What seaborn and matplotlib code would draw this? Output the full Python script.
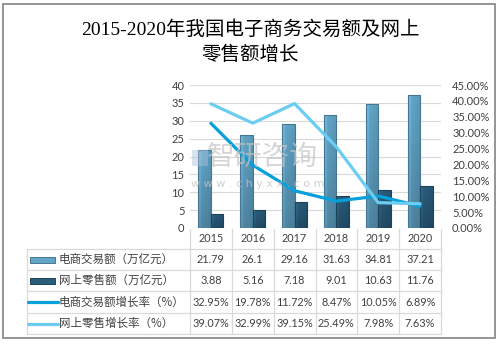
import numpy as np
import pandas as pd
import matplotlib
matplotlib.use("Agg")
import matplotlib.pyplot as plt
import matplotlib.transforms as mtransforms
from matplotlib.patches import Rectangle
from matplotlib.lines import Line2D
from matplotlib.colors import to_rgb
import seaborn as sns

# ---------------- data ----------------
years = ["2015", "2016", "2017", "2018", "2019", "2020"]
ecom_trade = [21.79, 26.1, 29.16, 31.63, 34.81, 37.21]
online_retail = [3.88, 5.16, 7.18, 9.01, 10.63, 11.76]
ecom_growth = [32.95, 19.78, 11.72, 8.47, 10.05, 6.89]
retail_growth = [39.07, 32.99, 39.15, 25.49, 7.98, 7.63]

ecom_trade_lbl = ["21.79", "26.1", "29.16", "31.63", "34.81", "37.21"]
online_retail_lbl = ["3.88", "5.16", "7.18", "9.01", "10.63", "11.76"]
ecom_growth_lbl = ["32.95%", "19.78%", "11.72%", "8.47%", "10.05%", "6.89%"]
retail_growth_lbl = ["39.07%", "32.99%", "39.15%", "25.49%", "7.98%", "7.63%"]

series_names = ["电商交易额（万亿元）", "网上零售额（万亿元）",
                "电商交易额增长率（%）", "网上零售增长率（%）"]
title = "2015-2020年我国电子商务交易额及网上\n零售额增长"

# ---------------- style ----------------
sns.set_theme(style="white")
plt.rcParams["font.family"] = ["Lato", "Noto Sans CJK SC", "DejaVu Sans"]
plt.rcParams["axes.unicode_minus"] = False

C_BAR1 = "#62a5c8"
C_BAR2 = "#2a5d7c"
C_LINE1 = "#07a0da"
C_LINE2 = "#6ccdf3"
TXT = "#404040"
GRID = "#d9d9d9"

W, H = 500, 345
fig = plt.figure(figsize=(W / 100, H / 100), dpi=100)
fig.patch.set_facecolor("white")

def fx(px):
    return px / W

def fy(py):
    return 1 - py / H

ax_l, ax_r, ax_t, ax_b = 190, 441, 85, 228
ax = fig.add_axes([fx(ax_l), fy(ax_b), (ax_r - ax_l) / W, (ax_b - ax_t) / H])

# ---------------- bars ----------------
df = pd.DataFrame({
    "year": years * 2,
    "value": ecom_trade + online_retail,
    "series": [series_names[0]] * len(years) + [series_names[1]] * len(years),
})
sns.barplot(data=df, x="year", y="value", hue="series",
            palette=[C_BAR1, C_BAR2], saturation=1, width=0.6, gap=0, ax=ax,
            legend=False, edgecolor="none", linewidth=0, zorder=2)

ax.set_xlim(-0.5, len(years) - 0.5)
ax.set_ylim(0, 40)
ax.set_yticks(np.arange(0, 41, 5))
ax.grid(axis="y", color=GRID, linewidth=0.8, zorder=0)
ax.set_axisbelow(True)
for s in ax.spines.values():
    s.set_visible(False)
ax.set_xticks(range(len(years)))
ax.set_xticklabels([])
ax.tick_params(axis="x", length=0)
ax.tick_params(axis="y", length=0, pad=4, labelsize=8, labelcolor=TXT)
ax.set_xlabel("")
ax.set_ylabel("")

# gradient shading of bars
def gradient_img(color):
    base = np.array(to_rgb(color))
    nx, ny = 40, 60
    xs = np.linspace(0, 1, nx)
    ys = np.linspace(0, 1, ny)  # 0 = top, 1 = bottom
    hf = np.where(xs < 0.22, 1.10, 1.0) - 0.10 * xs
    vf = 1.03 - 0.2 * ys
    f = vf[:, None] * hf[None, :]
    return np.clip(base[None, None, :] * f[:, :, None], 0, 1)

for cont, col in zip(ax.containers, [C_BAR1, C_BAR2]):
    for p in cont.patches:
        x0, y0 = p.get_x(), p.get_y()
        w, h = p.get_width(), p.get_height()
        if h <= 0:
            continue
        im = ax.imshow(gradient_img(col), extent=[x0, x0 + w, y0, y0 + h],
                       aspect="auto", origin="upper", zorder=2.1,
                       interpolation="bilinear")
        im.set_clip_path(p)
        edge = tuple(np.array(to_rgb(col)) * 0.72)
        ax.add_patch(Rectangle((x0, y0), w, h, fill=False, edgecolor=edge,
                               linewidth=0.8, zorder=2.2))
ax.set_xlim(-0.5, len(years) - 0.5)
ax.set_ylim(0, 40)

# ---------------- lines ----------------
ax2 = ax.twinx()
pos = np.arange(len(years))
sns.lineplot(x=pos, y=ecom_growth, ax=ax2, color=C_LINE1, linewidth=2.3, zorder=3)
sns.lineplot(x=pos, y=retail_growth, ax=ax2, color=C_LINE2, linewidth=2.3, zorder=3)
ax2.set_ylim(0, 45)
ax2.set_yticks(np.arange(0, 46, 5))
ax2.set_yticklabels([f"{v:.2f}%" for v in np.arange(0, 46, 5)])
ax2.tick_params(axis="y", length=0, pad=8, labelsize=8, labelcolor=TXT)
ax2.grid(False)
for s in ax2.spines.values():
    s.set_visible(False)
ax2.set_xlim(-0.5, len(years) - 0.5)

# ---------------- watermark ----------------
fig.text(fx(262), fy(157), "智研咨询", fontsize=20, color="#c4c4c4", alpha=0.7,
         ha="center", va="center", family=["Noto Sans CJK SC"], zorder=5)
fig.text(fx(258), fy(184), "w w w . c h y x x . c o m", fontsize=8, color="#c4c4c4",
         alpha=0.8, ha="center", va="center", family=["DejaVu Sans"], zorder=5)
# logo block of the watermark
fig.add_artist(Rectangle((fx(192), fy(166)), 16 / W, 16 / H, transform=fig.transFigure,
                         facecolor="#a9c3dd", edgecolor="none", alpha=0.45, zorder=5))

# ---------------- title ----------------
TFONT = ["Liberation Serif", "Noto Sans CJK SC"]
fig.text(0.5, fy(30), title.split("\n")[0], fontsize=14, ha="center", va="center",
         color="black", family=TFONT)
fig.text(0.5, fy(55), title.split("\n")[1], fontsize=14, ha="center", va="center",
         color="black", family=TFONT)

# ---------------- data table ----------------
bt = mtransforms.blended_transform_factory(ax.transData, fig.transFigure)
row_lines = [249, 270, 291, 313, 334]
row_centers = [259.5, 280.5, 302, 323.5]
header_center = 238.5
tbl_left = 27

def hline(py, x0px, x1px):
    fig.add_artist(Line2D([fx(x0px), fx(x1px)], [fy(py), fy(py)],
                          transform=fig.transFigure, color=GRID, linewidth=0.9))

for py in row_lines:
    hline(py, tbl_left, ax_r)
fig.add_artist(Line2D([fx(tbl_left), fx(tbl_left)], [fy(row_lines[0]), fy(row_lines[-1])],
                      transform=fig.transFigure, color=GRID, linewidth=0.9))
for k in range(len(years) + 1):
    fig.add_artist(Line2D([k - 0.5, k - 0.5], [fy(ax_b + 1), fy(row_lines[-1])],
                          transform=bt, color=GRID, linewidth=0.9))

NFONT = ["Lato", "Noto Sans CJK SC"]
for i, yr in enumerate(years):
    fig.text(i, fy(header_center), yr, transform=bt, ha="center", va="center",
             fontsize=7.8, color=TXT, family=NFONT)

rows = [ecom_trade_lbl, online_retail_lbl, ecom_growth_lbl, retail_growth_lbl]
for r, labels in enumerate(rows):
    for i, t in enumerate(labels):
        fig.text(i, fy(row_centers[r]), t, transform=bt, ha="center", va="center",
                 fontsize=7.8, color=TXT, family=NFONT)
    fig.text(fx(59), fy(row_centers[r]), series_names[r], ha="left", va="center",
             fontsize=8.3, color=TXT, family=["Noto Sans CJK SC", "DejaVu Sans"])

# legend keys in table
for r, col in enumerate([C_BAR1, C_BAR2]):
    yc = row_centers[r]
    fig.add_artist(Rectangle((fx(30), fy(yc + 3)), (55 - 30) / W, 6 / H,
                             transform=fig.transFigure, facecolor=col,
                             edgecolor=tuple(np.array(to_rgb(col)) * 0.72), linewidth=0.7))
for r, col in zip([2, 3], [C_LINE1, C_LINE2]):
    yc = row_centers[r]
    fig.add_artist(Line2D([fx(28), fx(58)], [fy(yc), fy(yc)], transform=fig.transFigure,
                          color=col, linewidth=2.3, solid_capstyle="round"))

# figure border
fig.add_artist(Rectangle((fx(3), fy(338)), (495 - 3) / W, (338 - 4) / H,
                         transform=fig.transFigure, fill=False,
                         edgecolor="#8c8c8c", linewidth=1.3))

fig.savefig("out.png", dpi=100, facecolor="white")
